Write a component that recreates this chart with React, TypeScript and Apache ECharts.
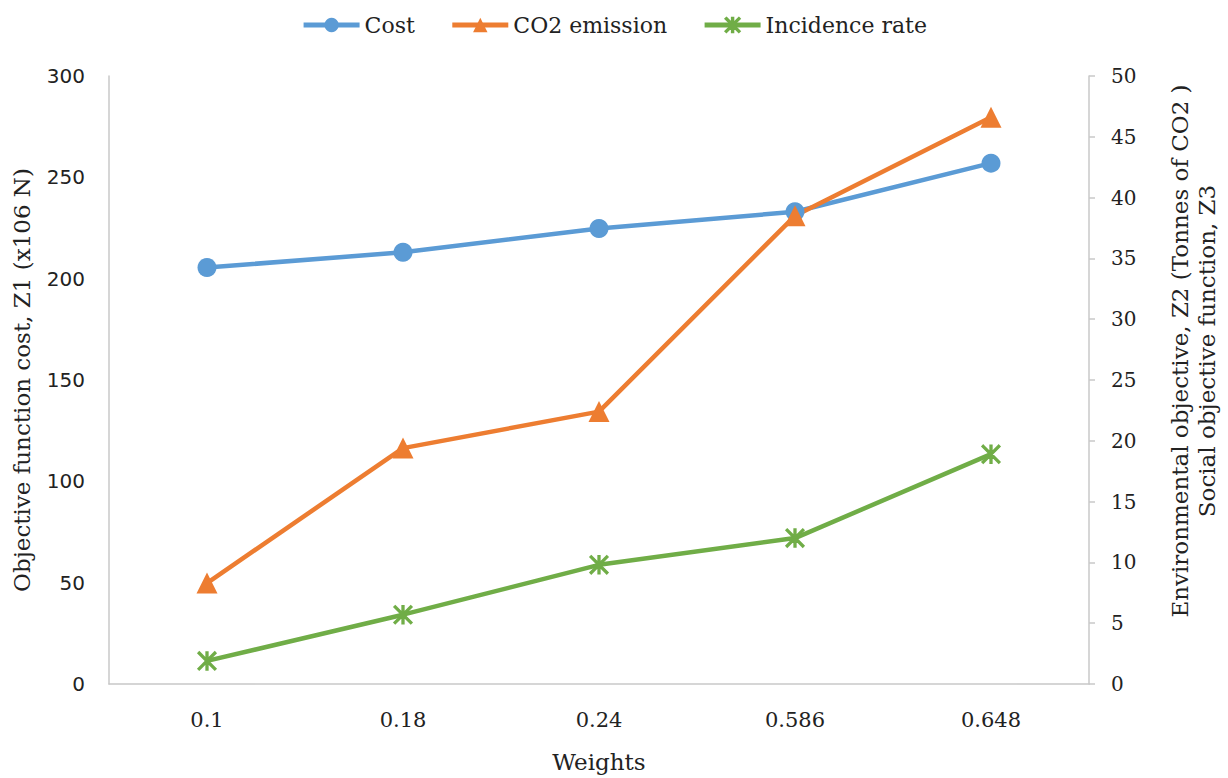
import React, { useEffect, useRef } from "react";
import * as echarts from "echarts";

const weights = ["0.1", "0.18", "0.24", "0.586", "0.648"];
const cost = [205.5, 213, 224.8, 233, 257];
const co2 = [8.3, 19.4, 22.4, 38.5, 46.6];
const incidence = [1.9, 5.7, 9.8, 12.0, 18.9];
const leftTicks = { min: 0, max: 300, interval: 50 };
const rightTicks = { min: 0, max: 50, interval: 5 };

const FONT = "'DejaVu Serif', 'Liberation Serif', serif";
const SANS = "'DejaVu Sans', 'Noto Sans', sans-serif";
const starPath =
  "path://M9 0 L11 0 L11 20 L9 20 Z M1.4 0 L20 18.6 L18.6 20 L0 1.4 Z M18.6 0 L20 1.4 L1.4 20 L0 18.6 Z";

export default function App() {
  const ref = useRef<HTMLDivElement>(null);
  useEffect(() => {
    const chart = echarts.init(ref.current!, undefined, { renderer: "svg" });
    chart.setOption({
      animation: false,
      backgroundColor: "#ffffff",
      textStyle: { fontFamily: FONT },
      legend: {
        top: 9,
        left: "center",
        itemWidth: 56,
        itemHeight: 18,
        itemGap: 35,
        lineStyle: { width: 5 },
        textStyle: { fontFamily: FONT, fontSize: 22, color: "#222" },
        data: ["Cost", "CO2 emission", "Incidence rate"],
      },
      grid: { left: 109, right: 132, top: 76, bottom: 92, containLabel: false },
      xAxis: {
        type: "category",
        data: weights,
        axisLine: { show: true, lineStyle: { color: "#c8c8c8", width: 1.5 } },
        axisTick: { show: false },
        axisLabel: { fontFamily: FONT, fontSize: 21, color: "#222", margin: 25 },
        name: "Weights",
        nameLocation: "middle",
        nameGap: 66,
        nameTextStyle: { fontFamily: FONT, fontSize: 23, color: "#222" },
      },
      yAxis: [
        {
          type: "value",
          min: leftTicks.min,
          max: leftTicks.max,
          interval: leftTicks.interval,
          position: "left",
          axisLine: { show: true, lineStyle: { color: "#c8c8c8", width: 1.5 } },
          axisTick: { show: false },
          splitLine: { show: false },
          axisLabel: { fontFamily: SANS, fontSize: 20, color: "#222", margin: 24 },
          name: "Objective function cost, Z1 (x106 N)",
          nameLocation: "middle",
          nameGap: 76,
          nameRotate: 90,
          nameTextStyle: { fontFamily: FONT, fontSize: 23, color: "#222" },
        },
        {
          type: "value",
          min: rightTicks.min,
          max: rightTicks.max,
          interval: rightTicks.interval,
          position: "right",
          axisLine: { show: true, lineStyle: { color: "#c8c8c8", width: 1.5 } },
          axisTick: { show: true, inside: false, length: 6, lineStyle: { color: "#c8c8c8", width: 1.5 } },
          splitLine: { show: false },
          axisLabel: { fontFamily: FONT, fontSize: 20, color: "#222", margin: 22 },
          name: "Environmental objective, Z2 (Tonnes of CO2 )\nSocial objective function, Z3",
          nameLocation: "middle",
          nameGap: 77,
          nameRotate: 90,
          nameTextStyle: {
            fontFamily: FONT,
            fontSize: 23,
            color: "#222",
            lineHeight: 27,
            padding: [0, 0, 0, 58],
          },
        },
      ],
      series: [
        {
          name: "Cost",
          type: "line",
          yAxisIndex: 0,
          data: cost,
          symbol: "circle",
          symbolSize: 19,
          lineStyle: { color: "#5B9BD5", width: 4.5 },
          itemStyle: { color: "#5B9BD5" },
        },
        {
          name: "CO2 emission",
          type: "line",
          yAxisIndex: 1,
          data: co2,
          symbol: "triangle",
          symbolSize: 21,
          lineStyle: { color: "#ED7D31", width: 4.5 },
          itemStyle: { color: "#ED7D31" },
        },
        {
          name: "Incidence rate",
          type: "line",
          yAxisIndex: 1,
          data: incidence,
          symbol: starPath,
          symbolSize: 18,
          lineStyle: { color: "#70AD47", width: 4.5 },
          itemStyle: { color: "#70AD47", borderColor: "#70AD47", borderWidth: 1.5 },
        },
      ],
    });
    return () => chart.dispose();
  }, []);
  return (
    <div
      ref={ref}
      style={{ position: "fixed", left: 0, top: 0, width: 1228, height: 778, background: "#fff" }}
    />
  );
}
